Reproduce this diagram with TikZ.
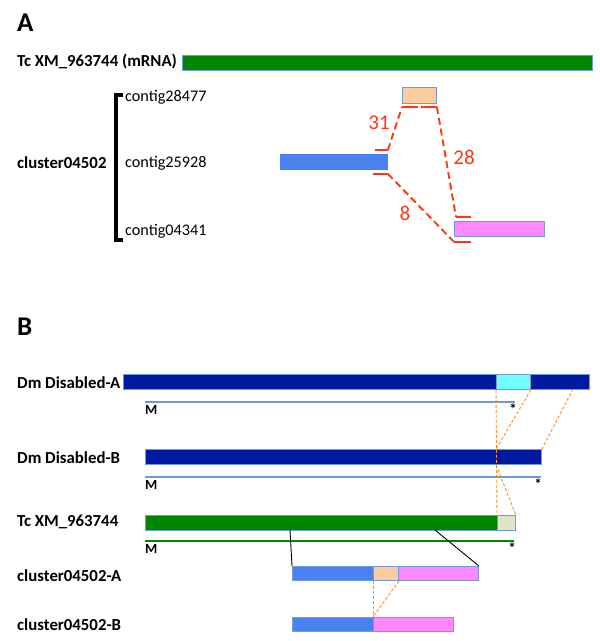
\documentclass[tikz,border=0pt]{standalone}
\usepackage{fontspec}
\setmainfont{Carlito}
\definecolor{bgreen}{RGB}{0,135,0}
\definecolor{bord}{RGB}{115,155,215}
\definecolor{dblue}{RGB}{0,25,160}
\definecolor{cyanb}{RGB}{112,255,255}
\definecolor{mblue}{RGB}{74,128,240}
\definecolor{peach}{RGB}{250,205,160}
\definecolor{pinkb}{RGB}{255,136,255}
\definecolor{palegr}{RGB}{222,230,200}
\definecolor{lblue}{RGB}{106,155,215}
\definecolor{redl}{RGB}{255,55,20}
\definecolor{orl}{RGB}{255,140,30}
\begin{document}
\begin{tikzpicture}[x=1pt,y=-1pt,
  barbox/.style={draw=bord,line width=0.9pt,inner sep=0pt,anchor=north west},
  lab/.style={font=\bfseries\fontsize{16.8}{18}\selectfont,anchor=west,inner sep=0pt},
  clab/.style={font=\fontsize{16.2}{18}\selectfont,anchor=west,inner sep=0pt},
  big/.style={font=\bfseries\fontsize{27}{30}\selectfont,anchor=west,inner sep=0pt},
  num/.style={font=\fontsize{21}{24}\selectfont,text=redl,inner sep=0pt},
  redd/.style={draw=redl,line width=1.9pt,dash pattern=on 7pt off 4pt},
  redt/.style={draw=redl,line width=1.9pt},
  ord/.style={draw=orl,line width=0.9pt,dash pattern=on 3pt off 2pt},
  mline/.style={line width=2pt},
  small/.style={font=\bfseries\fontsize{14}{14}\selectfont,inner sep=0pt},
  star/.style={font=\bfseries\fontsize{15}{15}\selectfont,inner sep=0pt,anchor=north}]
\useasboundingbox (0,0) rectangle (600,641);
% ---------- A ----------
\node[big] (tA) at (17,23) {A};
\node[lab] (lTc) at (17,62) {Tc XM\_963744 (mRNA)};
\node[barbox,fill=bgreen,minimum width=410pt,minimum height=15pt] (gA) at (182,55) {};
\node[lab] (lcl) at (17,163) {cluster04502};
\node[clab] (c1) at (125,97) {contig28477};
\node[clab] (c2) at (125,163) {contig25928};
\node[clab] (c3) at (125,231) {contig04341};
\coordinate (bk1) at (123,95);
\coordinate (bk2) at (116,95);
\coordinate (bk3) at (116,240);
\coordinate (bk4) at (123,240);
\draw[line width=3.2pt] (bk1) -- (bk2) -- (bk3) -- (bk4);
\node[barbox,fill=peach,minimum width=34pt,minimum height=16pt] (oA) at (402,87) {};
\node[barbox,draw=mblue,fill=mblue,minimum width=107pt,minimum height=15pt] (bA) at (280,154) {};
\node[barbox,fill=pinkb,minimum width=90pt,minimum height=15pt] (pA) at (454,221) {};
% line 31
\coordinate (r1a) at ([xshift=-13pt,yshift=4pt]bA.north east);
\coordinate (r1b) at ([yshift=4pt]bA.north east);
\coordinate (r1c) at ([yshift=-3pt]oA.south west);
\coordinate (r1d) at ([xshift=16pt,yshift=-3pt]oA.south west);
\draw[redt] (r1a) -- (r1b);
\draw[redd] (r1b) -- (r1c);
\draw[redt] (r1c) -- (r1d);
% line 28
\coordinate (r2a) at ([xshift=-16pt,yshift=-3pt]oA.south east);
\coordinate (r2b) at ([yshift=-3pt]oA.south east);
\coordinate (r2c) at ([xshift=2pt,yshift=4pt]pA.north west);
\coordinate (r2d) at ([xshift=17pt,yshift=4pt]pA.north west);
\draw[redt] (r2a) -- (r2b);
\draw[redd] (r2b) -- (r2c);
\draw[redt] (r2c) -- (r2d);
% line 8
\coordinate (r3a) at ([xshift=-15pt,yshift=-4pt]bA.south east);
\coordinate (r3b) at ([yshift=-4pt]bA.south east);
\coordinate (r3c) at ([yshift=-5pt]pA.south west);
\coordinate (r3d) at ([xshift=17pt,yshift=-5pt]pA.south west);
\draw[redt] (r3a) -- (r3b);
\draw[redd] (r3b) -- (r3c);
\draw[redt] (r3c) -- (r3d);
\node[num] (n31) at (379,123) {31};
\node[num] (n28) at (464,157) {28};
\node[num] (n8) at (405,213) {8};
% ---------- B ----------
\node[big] (tB) at (17,327) {B};
\node[lab] (lDA) at (17,383) {Dm Disabled-A};
\node[barbox,fill=dblue,minimum width=466pt,minimum height=15pt] (dA) at (123,374) {};
\node[barbox,fill=cyanb,minimum width=34pt,minimum height=15pt] (cy) at (496,374) {};
\coordinate (mA1) at (145,402);
\coordinate (mA2) at (515,402);
\draw[mline,lblue] (mA1) -- (mA2);
\node[small,anchor=north west] (MA) at (145,405) {M};
\node[star] (sA) at (513,404) {*};
\node[lab] (lDB) at (17,458) {Dm Disabled-B};
\node[barbox,fill=dblue,minimum width=396pt,minimum height=15pt] (dB) at (145,449) {};
\coordinate (mB1) at (145,477);
\coordinate (mB2) at (541,477);
\draw[mline,lblue] (mB1) -- (mB2);
\node[small,anchor=north west] (MB) at (145,480) {M};
\node[star] (sB) at (538,479) {*};
\node[lab] (lTB) at (17,522) {Tc XM\_963744};
\node[barbox,fill=bgreen,minimum width=352pt,minimum height=15pt] (gB) at (145,515) {};
\node[barbox,fill=palegr,minimum width=18pt,minimum height=15pt] (pg) at (497,515) {};
\coordinate (mC1) at (145,541);
\coordinate (mC2) at (514,541);
\draw[mline,bgreen] (mC1) -- (mC2);
\node[small,anchor=north west] (MC) at (145,544) {M};
\node[star] (sC) at (512,543) {*};
\node[lab] (lCA) at (17,576) {cluster04502-A};
\node[barbox,fill=mblue,minimum width=81pt,minimum height=14pt] (aB) at (292,566) {};
\node[barbox,fill=peach,minimum width=25pt,minimum height=14pt] (aP) at (373,566) {};
\node[barbox,fill=pinkb,minimum width=80pt,minimum height=14pt] (aK) at (398,566) {};
\node[lab] (lCB) at (17,625) {cluster04502-B};
\node[barbox,fill=mblue,minimum width=81pt,minimum height=14pt] (bB) at (292,617) {};
\node[barbox,fill=pinkb,minimum width=80pt,minimum height=14pt] (bK) at (373,617) {};
% black connectors
\coordinate (k1) at (290,530);
\coordinate (k2) at (435,530);
\draw[line width=0.9pt] (k1) -- (aB.north west);
\draw[line width=0.9pt] (k2) -- (aK.north east);
% orange dashed
\coordinate (o1) at (573,389);
\draw[ord] (cy.south west) -- (pg.north west);
\draw[ord] (cy.south east) -- (dB.north west -| cy.south west);
\draw[ord] (o1) -- (dB.north east);
\draw[ord] (dB.south west -| cy.south west) -- (pg.north east);
\draw[ord] (aP.south west) -- (bK.north west);
\draw[ord] (aP.south east) -- (bK.north west);
\end{tikzpicture}
\end{document}
